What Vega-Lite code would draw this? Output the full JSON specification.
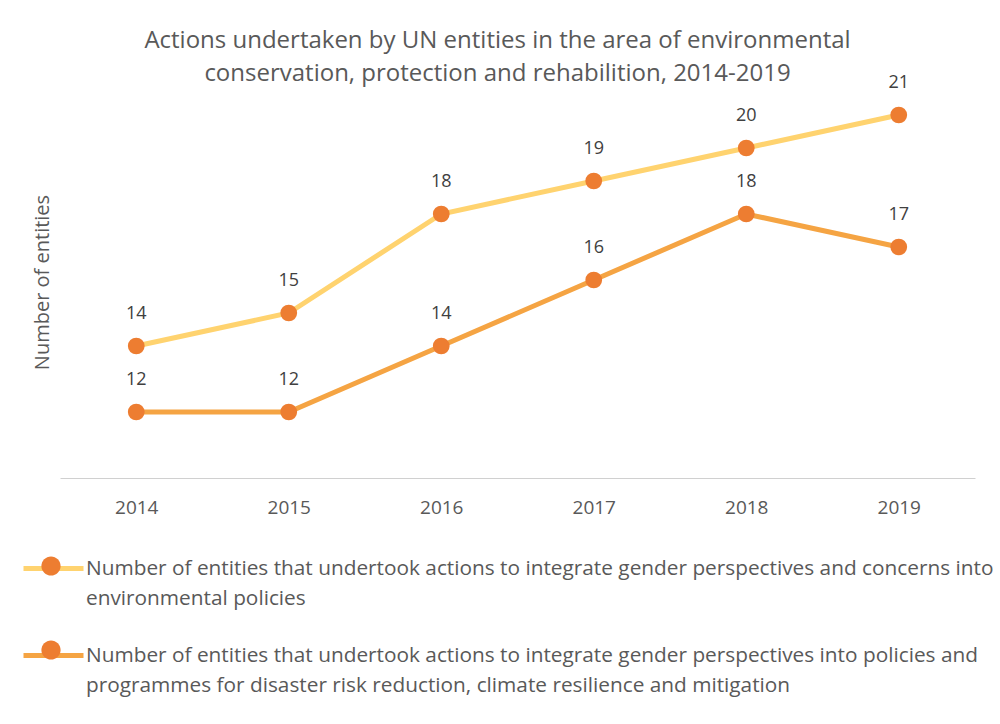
{
  "$schema": "https://vega.github.io/schema/vega-lite/v6.json",
  "width": 915,
  "height": 462,
  "autosize": "none",
  "padding": {"left": 60, "top": 16, "right": 25, "bottom": 246},
  "background": "white",
  "config": {
    "view": {"stroke": null},
    "font": "Open Sans",
    "style": {"guide-label": {"lineHeight": 30}}
  },
  "title": {
    "text": ["Actions undertaken by UN entities in the area of environmental", "conservation, protection and rehabilition, 2014-2019"],
    "fontSize": 24,
    "fontWeight": "normal",
    "color": "#595959",
    "font": "Open Sans",
    "lineHeight": 33,
    "anchor": "middle",
    "dx": -20,
    "offset": -70
  },
  "data": {
    "values": [
      {"year": "2014", "s": "A", "k": "a", "v": 14},
      {"year": "2015", "s": "A", "k": "a", "v": 15},
      {"year": "2016", "s": "A", "k": "a", "v": 18},
      {"year": "2017", "s": "A", "k": "a", "v": 19},
      {"year": "2018", "s": "A", "k": "a", "v": 20},
      {"year": "2019", "s": "A", "k": "a", "v": 21},
      {"year": "2014", "s": "B", "k": "b", "v": 12},
      {"year": "2015", "s": "B", "k": "b", "v": 12},
      {"year": "2016", "s": "B", "k": "b", "v": 14},
      {"year": "2017", "s": "B", "k": "b", "v": 16},
      {"year": "2018", "s": "B", "k": "b", "v": 18},
      {"year": "2019", "s": "B", "k": "b", "v": 17}
    ]
  },
  "encoding": {
    "x": {
      "field": "year",
      "type": "ordinal",
      "scale": {"type": "point", "padding": 0.5},
      "axis": {
        "title": null,
        "labelAngle": 0,
        "labelFontSize": 19,
        "labelColor": "#595959",
        "labelPadding": 20,
        "ticks": false,
        "domainColor": "#D0D0D0",
        "domainWidth": 1,
        "grid": false
      }
    },
    "y": {
      "field": "v",
      "type": "quantitative",
      "scale": {"domain": [10, 24], "nice": false, "zero": false},
      "axis": {
        "title": "Number of entities",
        "titleFontSize": 20,
        "titleFontWeight": "normal",
        "titleColor": "#595959",
        "titlePadding": 8,
        "titleY": 266,
        "labels": false,
        "ticks": false,
        "domain": false,
        "grid": false
      }
    }
  },
  "layer": [
    {
      "mark": {"type": "line", "strokeWidth": 5},
      "encoding": {
        "color": {
          "field": "s",
          "type": "nominal",
          "scale": {"domain": ["A", "B"], "range": ["#FFD36F", "#F5A443"]},
          "legend": {
            "orient": "none",
            "legendX": -39,
            "legendY": 526,
            "direction": "vertical",
            "title": null,
            "symbolType": "M-1,-0.2H1",
            "symbolSize": 3600,
            "symbolStrokeWidth": 5,
            "labelFontSize": 20.8,
            "labelColor": "#595959",
            "labelFont": "Open Sans",
            "labelLimit": 1000,
            "labelOffset": 0,
            "labelBaseline": "alphabetic",
            "rowPadding": 20,
            "labelExpr": "datum.value == 'A' ? ['Number of entities that undertook actions to integrate gender perspectives and concerns into', 'environmental policies'] : ['Number of entities that undertook actions to integrate gender perspectives into policies and', 'programmes for disaster risk reduction, climate resilience and mitigation']"
          }
        }
      }
    },
    {
      "mark": {"type": "point", "filled": true, "opacity": 1, "size": 280, "shape": "circle"},
      "encoding": {
        "fill": {
          "field": "k",
          "type": "nominal",
          "scale": {"domain": ["a", "b"], "range": ["#ED7D31", "#ED7D31"]},
          "legend": {
            "orient": "none",
            "legendX": -39,
            "legendY": 526,
            "direction": "vertical",
            "title": null,
            "zindex": 2,
            "symbolType": "M-0.32,-0.2A0.32,0.32 0 1,0 0.32,-0.2A0.32,0.32 0 1,0 -0.32,-0.2Z",
            "symbolSize": 3600,
            "symbolStrokeWidth": 0,
            "symbolOpacity": 1,
            "labelFontSize": 20.8,
            "labelOpacity": 0,
            "labelFont": "Open Sans",
            "labelLimit": 1000,
            "labelOffset": 0,
            "labelBaseline": "alphabetic",
            "rowPadding": 20,
            "labelExpr": "[' ', ' ']"
          }
        }
      }
    },
    {
      "mark": {"type": "text", "dy": -32, "fontSize": 18, "color": "#404040"},
      "encoding": {
        "text": {"field": "v", "type": "quantitative"}
      }
    }
  ]
}
